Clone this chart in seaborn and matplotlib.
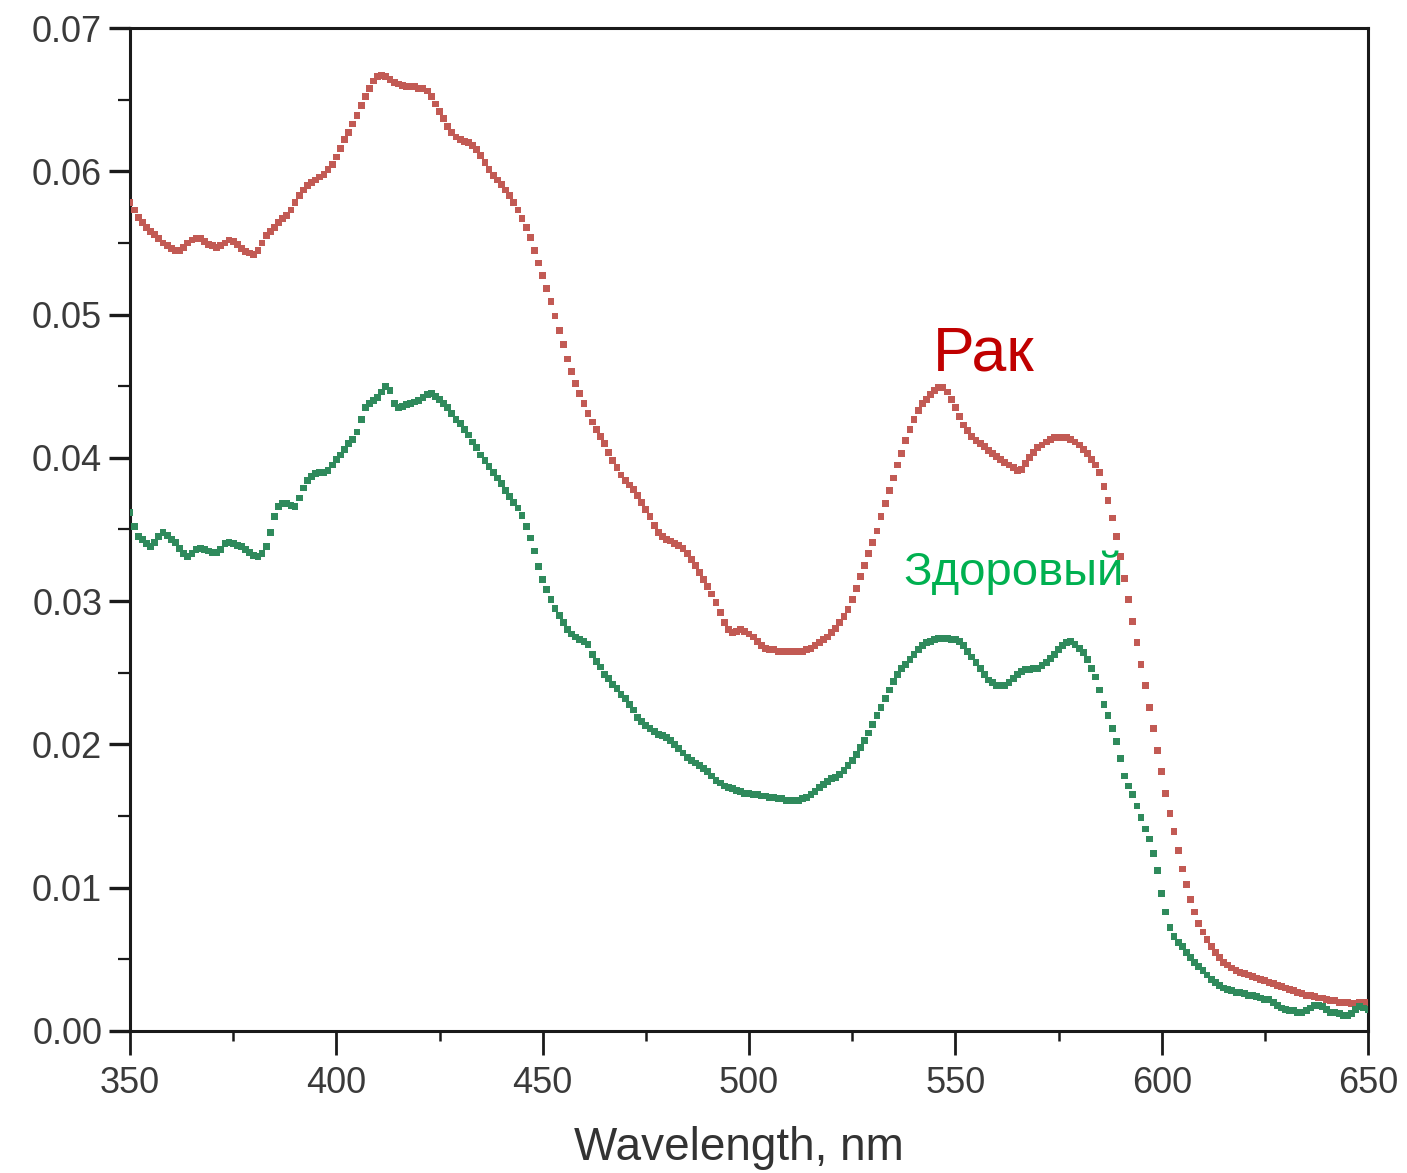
import matplotlib
matplotlib.use("Agg")
import matplotlib.pyplot as plt
import numpy as np
import pandas as pd
import seaborn as sns
from matplotlib.ticker import MultipleLocator, FormatStrFormatter

# ---- data (1 nm step) ----
wavelength = list(range(350, 651))

cancer = [
    .0578, .0573, .0568, .0564, .0561, .0558, .0556, .0553, .0550, .0548,
    .0546, .0545, .0545, .0547, .0550, .0552, .0553, .0553, .0551, .0549,
    .0548, .0547, .0548, .0550, .0552, .0551, .0549, .0546, .0544, .0543,
    .0542, .0545, .0550, .0555, .0558, .0561, .0564, .0567, .0569, .0573,
    .0578, .0583, .0587, .0590, .0592, .0594, .0596, .0598, .0601, .0605,
    .0610, .0616, .0622, .0627, .0633, .0639, .0646, .0652, .0658, .0663,
    .0666, .0667, .0666, .0664, .0662, .0661, .0660, .0659, .0659, .0659,
    .0658, .0658, .0656, .0652, .0647, .0642, .0637, .0631, .0627, .0624,
    .0622, .0621, .0620, .0618, .0615, .0611, .0606, .0601, .0597, .0594,
    .0591, .0587, .0583, .0578, .0573, .0567, .0561, .0554, .0545, .0536,
    .0527, .0518, .0509, .0499, .0489, .0479, .0469, .0460, .0452, .0445,
    .0438, .0431, .0425, .0420, .0415, .0410, .0404, .0398, .0393, .0388,
    .0384, .0381, .0378, .0374, .0369, .0364, .0359, .0353, .0348, .0345,
    .0343, .0342, .0340, .0339, .0337, .0333, .0329, .0325, .0320, .0315,
    .0310, .0305, .0299, .0292, .0285, .0280, .0278, .0279, .0280, .0279,
    .0277, .0275, .0272, .0269, .0267, .0266, .0266, .0265, .0265, .0265,
    .0265, .0265, .0265, .0265, .0266, .0267, .0269, .0271, .0273, .0275,
    .0278, .0281, .0285, .0289, .0294, .0301, .0309, .0317, .0325, .0333,
    .0341, .0349, .0359, .0368, .0377, .0386, .0395, .0403, .0412, .0420,
    .0427, .0433, .0438, .0441, .0444, .0447, .0449, .0449, .0446, .0441,
    .0435, .0429, .0423, .0419, .0415, .0412, .0410, .0408, .0405, .0403,
    .0401, .0399, .0397, .0395, .0393, .0391, .0392, .0396, .0400, .0404,
    .0407, .0409, .0411, .0413, .0414, .0414, .0414, .0414, .0413, .0411,
    .0409, .0406, .0403, .0399, .0395, .0390, .0380, .0370, .0358, .0345,
    .0331, .0316, .0301, .0286, .0271, .0256, .0241, .0226, .0211, .0196,
    .0181, .0166, .0152, .0139, .0126, .0113, .0102, .0092, .0083, .0075,
    .0069, .0064, .0059, .0055, .0051, .0048, .0046, .0044, .0042, .0041,
    .0040, .0039, .0038, .0037, .0036, .0035, .0034, .0033, .0032, .0031,
    .0030, .0029, .0028, .0027, .0026, .0025, .0025, .0024, .0023, .0023,
    .0022, .0021, .0021, .0020, .0020, .0020, .0019, .0019, .0020, .0020,
    .0020,
]

healthy = [
    .0362, .0352, .0345, .0343, .0340, .0338, .0341, .0345, .0348, .0346,
    .0343, .0341, .0337, .0333, .0331, .0333, .0336, .0337, .0336, .0335,
    .0334, .0334, .0336, .0340, .0341, .0340, .0339, .0338, .0336, .0334,
    .0332, .0331, .0333, .0338, .0348, .0359, .0366, .0368, .0368, .0367,
    .0366, .0372, .0379, .0384, .0387, .0389, .0390, .0390, .0391, .0395,
    .0399, .0402, .0406, .0410, .0413, .0418, .0427, .0435, .0438, .0440,
    .0442, .0446, .0450, .0447, .0438, .0435, .0436, .0437, .0438, .0439,
    .0440, .0442, .0444, .0445, .0443, .0441, .0438, .0435, .0431, .0427,
    .0424, .0420, .0416, .0411, .0407, .0402, .0398, .0394, .0390, .0386,
    .0382, .0377, .0373, .0369, .0365, .0360, .0352, .0344, .0335, .0324,
    .0315, .0308, .0301, .0295, .0290, .0285, .0280, .0277, .0275, .0273,
    .0272, .0270, .0263, .0258, .0254, .0249, .0246, .0242, .0239, .0235,
    .0232, .0228, .0224, .0219, .0216, .0213, .0211, .0209, .0207, .0206,
    .0205, .0203, .0200, .0197, .0194, .0191, .0189, .0187, .0185, .0183,
    .0181, .0178, .0175, .0173, .0171, .0170, .0169, .0168, .0167, .0166,
    .0166, .0165, .0165, .0164, .0164, .0163, .0163, .0162, .0162, .0161,
    .0161, .0161, .0161, .0162, .0163, .0165, .0167, .0170, .0172, .0174,
    .0176, .0177, .0179, .0182, .0185, .0189, .0193, .0198, .0203, .0208,
    .0214, .0220, .0226, .0232, .0238, .0244, .0249, .0253, .0256, .0259,
    .0263, .0266, .0269, .0271, .0272, .0273, .0274, .0274, .0274, .0273,
    .0273, .0272, .0269, .0265, .0261, .0257, .0253, .0249, .0245, .0243,
    .0241, .0241, .0241, .0243, .0246, .0249, .0251, .0252, .0252, .0253,
    .0253, .0255, .0257, .0260, .0263, .0266, .0269, .0271, .0272, .0270,
    .0267, .0264, .0259, .0253, .0247, .0238, .0228, .0220, .0211, .0202,
    .0190, .0178, .0171, .0165, .0157, .0149, .0141, .0134, .0124, .0112,
    .0096, .0083, .0072, .0066, .0062, .0059, .0055, .0051, .0048, .0045,
    .0042, .0039, .0036, .0034, .0032, .0030, .0029, .0028, .0027, .0027,
    .0026, .0025, .0025, .0024, .0023, .0022, .0022, .0020, .0018, .0016,
    .0015, .0014, .0014, .0013, .0013, .0014, .0016, .0018, .0018, .0017,
    .0015, .0013, .0013, .0012, .0011, .0011, .0012, .0015, .0017, .0016,
    .0015,
]

series_names = ["Рак", "Здоровый"]
x_ticks = [350, 400, 450, 500, 550, 600, 650]
y_ticks = [0.00, 0.01, 0.02, 0.03, 0.04, 0.05, 0.06, 0.07]
x_label = "Wavelength, nm"

assert len(cancer) == len(wavelength) == len(healthy)

# ---- style ----
sns.set_style("ticks")
plt.rcParams["font.family"] = ["Liberation Sans", "DejaVu Sans"]

df = pd.DataFrame({
    "nm": wavelength + wavelength,
    "A": cancer + healthy,
    "series": [series_names[0]] * len(cancer) + [series_names[1]] * len(healthy),
})

fig = plt.figure(figsize=(14.07, 11.73), dpi=100)
fig.patch.set_facecolor("white")
ax = fig.add_axes([0.0924, 0.1211, 0.8799, 0.8550])

palette = {series_names[0]: "#c25a54", series_names[1]: "#2f8a5c"}
sns.scatterplot(data=df, x="nm", y="A", hue="series", palette=palette,
                marker="s", s=24, linewidth=0, legend=False, ax=ax, zorder=3)

ax.set_xlim(350, 650)
ax.set_ylim(0, 0.07)
ax.set_xticks(x_ticks)
ax.set_yticks(y_ticks)
ax.xaxis.set_minor_locator(MultipleLocator(25))
ax.yaxis.set_minor_locator(MultipleLocator(0.005))
ax.yaxis.set_major_formatter(FormatStrFormatter("%.2f"))
ax.set_xlabel("")
ax.set_ylabel("")

for sp in ax.spines.values():
    sp.set_linewidth(2.2)
    sp.set_color("#1a1a1a")
    sp.set_visible(True)

ax.tick_params(axis="y", which="major", direction="out", length=15, width=2.4,
               color="#1a1a1a", labelsize=26, labelcolor="#3a3a3a", pad=5)
ax.tick_params(axis="y", which="minor", direction="out", length=9, width=1.6,
               color="#1a1a1a")
ax.tick_params(axis="x", which="major", direction="out", length=17, width=2.0,
               color="#1a1a1a", labelsize=26, labelcolor="#3a3a3a", pad=8)
ax.tick_params(axis="x", which="minor", direction="out", length=7, width=1.8,
               color="#1a1a1a")
ax.tick_params(top=False, right=False, which="both")

# curve labels
ax.text(544.6, 0.0461, series_names[0], color="#c00000", fontsize=45,
        ha="left", va="baseline")
ax.text(537.3, 0.0311, series_names[1], color="#00b050", fontsize=34,
        ha="left", va="baseline")

# x-axis label near the bottom edge
fig.text(0.525, 0.011, x_label, fontsize=33, color="#333333",
         ha="center", va="baseline")

fig.savefig("out.png", dpi=100, facecolor="white")
